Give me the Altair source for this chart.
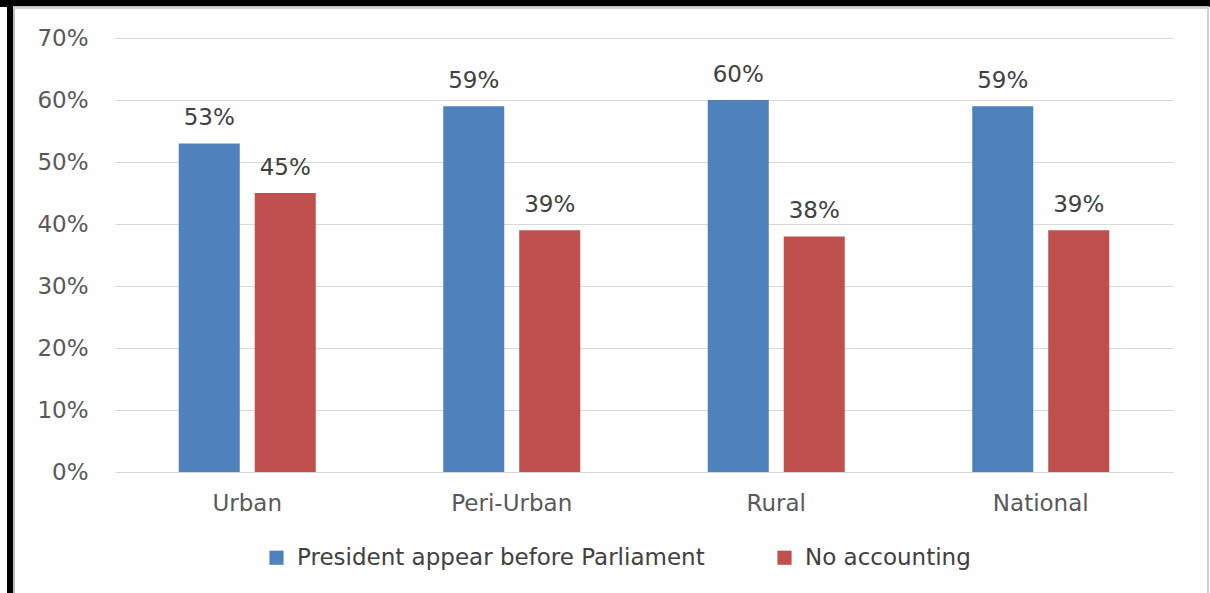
import altair as alt
import pandas as pd

categories = ["Urban", "Peri-Urban", "Rural", "National"]
series_names = ["President appear before Parliament", "No accounting"]
president = [0.53, 0.59, 0.60, 0.59]
no_accounting = [0.45, 0.39, 0.38, 0.39]
colors = ["#4f81bd", "#c0504d"]

rows = []
for i, c in enumerate(categories):
    rows.append({"Category": c, "Series": series_names[0], "Value": president[i]})
    rows.append({"Category": c, "Series": series_names[1], "Value": no_accounting[i]})
df = pd.DataFrame(rows)

FONT = "DejaVu Sans"
FS = 23

x = alt.X("Category:N", sort=categories, title=None,
          scale=alt.Scale(paddingInner=0.482, paddingOuter=0.241),
          axis=alt.Axis(labelAngle=0, labelFontSize=FS, labelColor="#595959",
                        labelFont=FONT, labelPadding=20, ticks=False, domain=False))
xo = alt.XOffset("Series:N", sort=series_names,
                 scale=alt.Scale(paddingInner=0.197, paddingOuter=0))
y = alt.Y("Value:Q", title=None,
          scale=alt.Scale(domain=[0, 0.7], nice=False),
          axis=alt.Axis(format=".0%", values=[0, 0.1, 0.2, 0.3, 0.4, 0.5, 0.6, 0.7],
                        labelFontSize=FS, labelColor="#595959", labelFont=FONT,
                        labelPadding=27, ticks=False, domain=False,
                        gridColor="#d9d9d9", gridWidth=1.2))

bars = alt.Chart(df).mark_bar().encode(
    x=x, xOffset=xo, y=y,
    color=alt.Color("Series:N", sort=series_names,
                    scale=alt.Scale(domain=series_names, range=colors),
                    legend=alt.Legend(title=None, orient="none", direction="horizontal",
                                      legendX=150, legendY=508,
                                      symbolType="square", symbolSize=200,
                                      symbolStrokeWidth=0, labelFontSize=FS,
                                      labelFont=FONT, labelColor="#404040",
                                      labelLimit=800, labelOffset=9,
                                      columnPadding=68)),
)

labels = alt.Chart(df).mark_text(baseline="alphabetic", dy=-18, fontSize=FS,
                                 font=FONT, color="#404040").encode(
    x=x, xOffset=xo, y=y,
    text=alt.Text("Value:Q", format=".0%"),
)

# decorative frame (black top band and left bar, light grey inner border)
frame_top = alt.Chart(df).mark_rule(color="black", strokeWidth=7).encode(
    x=alt.value(-115), x2=alt.value(1095), y=alt.value(-34.5))
frame_left = alt.Chart(df).mark_rule(color="black", strokeWidth=6).encode(
    x=alt.value(-105), y=alt.value(-38), y2=alt.value(555))
grey_right = alt.Chart(df).mark_rule(color="#d0d0d0", strokeWidth=1.5).encode(
    x=alt.value(1093), y=alt.value(-31), y2=alt.value(555))
grey_left = alt.Chart(df).mark_rule(color="#bfbfbf", strokeWidth=1.5).encode(
    x=alt.value(-101), y=alt.value(-31), y2=alt.value(555))
grey_top = alt.Chart(df).mark_rule(color="#d0d0d0", strokeWidth=1.5).encode(
    x=alt.value(-102), x2=alt.value(1094), y=alt.value(-30.5))

chart = alt.layer(bars, labels, frame_top, frame_left, grey_right, grey_left, grey_top).properties(
    width=1058, height=434,
    autosize=alt.AutoSizeParams(type="none"),
    padding={"left": 115, "top": 38, "right": 37, "bottom": 121},
    background="white",
).configure_view(stroke=None)

chart.save("out.html", embed_options={"renderer": "svg", "actions": False})
